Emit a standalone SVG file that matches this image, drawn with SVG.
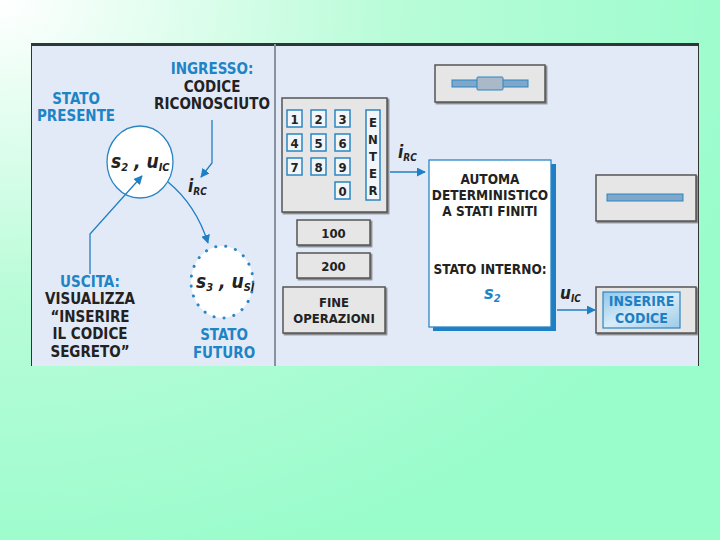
<svg xmlns="http://www.w3.org/2000/svg" width="720" height="540" viewBox="0 0 720 540">
<defs>
<radialGradient id="bg" cx="0" cy="0" r="1.1" gradientUnits="objectBoundingBox">
<stop offset="0" stop-color="#ffffff"/>
<stop offset="0.5" stop-color="#b8fcd8"/>
<stop offset="1" stop-color="#99fccb"/>
</radialGradient>
<linearGradient id="disp" x1="0" y1="0" x2="1" y2="1">
<stop offset="0" stop-color="#8fc7ea"/>
<stop offset="0.5" stop-color="#d8ecf8"/>
<stop offset="1" stop-color="#9ccbe8"/>
</linearGradient>
<marker id="ah" viewBox="0 0 10 10" refX="9" refY="5" markerWidth="9" markerHeight="9" markerUnits="userSpaceOnUse" orient="auto">
<path d="M0,0 L10,5 L0,10 Z" fill="#1f7fc4"/>
</marker>
<filter id="sh" x="-10%" y="-10%" width="130%" height="130%">
<feDropShadow dx="1.5" dy="1.5" stdDeviation="0.6" flood-color="#555" flood-opacity="0.7"/>
</filter>
</defs>
<style>
.t{font-family:"Liberation Sans Narrow","DejaVu Sans Condensed","Liberation Sans",sans-serif;font-weight:bold;}
.b{fill:#1e84c6;}
.k{fill:#222;}
.c{text-anchor:middle;}
.lbl{font-size:15px;}
.it{font-style:italic;}
.btn{fill:#e6e6e6;stroke:#555;stroke-width:1.5;}
.key{fill:#f2f6fa;stroke:#2a86c4;stroke-width:1.5;}
.keyt{font-family:"Liberation Sans Narrow","DejaVu Sans Condensed","Liberation Sans",sans-serif;font-weight:bold;font-size:13px;fill:#222;text-anchor:middle;}
.ln{fill:none;stroke:#1f7fc4;stroke-width:1.3;}
</style>
<rect x="0" y="0" width="720" height="540" fill="url(#bg)"/>
<rect x="31" y="44" width="668" height="322" fill="#e3eaf7"/>
<line x1="31" y1="44.5" x2="699" y2="44.5" stroke="#2b3838" stroke-width="3"/>
<line x1="31.5" y1="44" x2="31.5" y2="366" stroke="#333" stroke-width="1"/>
<line x1="698.5" y1="44" x2="698.5" y2="366" stroke="#333" stroke-width="1"/>
<line x1="275" y1="44" x2="275" y2="366" stroke="#8a92a0" stroke-width="2"/>

<g id="stato-presente-label">
<text class="t b c lbl" x="76" y="104">STATO</text>
<text class="t b c lbl" x="76" y="121">PRESENTE</text>
</g>
<g id="ingresso-label">
<text class="t b c lbl" x="212" y="74">INGRESSO:</text>
<text class="t k c lbl" x="212" y="92">CODICE</text>
<text class="t k c lbl" x="212" y="109">RICONOSCIUTO</text>
</g>
<g id="state-s2">
<ellipse cx="140" cy="162" rx="33" ry="36" fill="#ffffff" stroke="#2a86c4" stroke-width="1.3"/>
<text class="t k it" x="111" y="168" font-size="19">s<tspan font-size="11" dy="3">2</tspan><tspan dy="-3"> , u</tspan><tspan font-size="11" dy="3">IC</tspan></text>
</g>
<g id="state-s3">
<ellipse cx="222" cy="282" rx="31" ry="36" fill="#ffffff" stroke="#2a86c4" stroke-width="3" stroke-linecap="round" stroke-dasharray="0.1 10"/>
<text class="t k it" x="196" y="288" font-size="19">s<tspan font-size="11" dy="3">3</tspan><tspan dy="-3"> , u</tspan><tspan font-size="11" dy="3">SI</tspan></text>
</g>
<g id="stato-futuro-label">
<text class="t b c lbl" x="224" y="340">STATO</text>
<text class="t b c lbl" x="224" y="358">FUTURO</text>
</g>
<g id="uscita-label">
<text class="t b c lbl" x="90" y="287">USCITA:</text>
<text class="t k c lbl" x="90" y="304">VISUALIZZA</text>
<text class="t k c lbl" x="90" y="322">“INSERIRE</text>
<text class="t k c lbl" x="90" y="339">IL CODICE</text>
<text class="t k c lbl" x="90" y="357">SEGRETO”</text>
</g>

<g id="keypad">
<rect x="282" y="98" width="105" height="114" class="btn" filter="url(#sh)"/>
<rect x="287" y="110" width="15" height="17" class="key"/><text class="keyt" x="294.5" y="124">1</text>
<rect x="311" y="110" width="15" height="17" class="key"/><text class="keyt" x="318.5" y="124">2</text>
<rect x="335" y="110" width="15" height="17" class="key"/><text class="keyt" x="342.5" y="124">3</text>
<rect x="287" y="134" width="15" height="17" class="key"/><text class="keyt" x="294.5" y="148">4</text>
<rect x="311" y="134" width="15" height="17" class="key"/><text class="keyt" x="318.5" y="148">5</text>
<rect x="335" y="134" width="15" height="17" class="key"/><text class="keyt" x="342.5" y="148">6</text>
<rect x="287" y="158" width="15" height="17" class="key"/><text class="keyt" x="294.5" y="172">7</text>
<rect x="311" y="158" width="15" height="17" class="key"/><text class="keyt" x="318.5" y="172">8</text>
<rect x="335" y="158" width="15" height="17" class="key"/><text class="keyt" x="342.5" y="172">9</text>
<rect x="335" y="182" width="15" height="17" class="key"/><text class="keyt" x="342.5" y="196">0</text>
<rect x="366" y="110" width="14" height="90" class="key"/>
<text class="keyt" x="373" y="127">E</text>
<text class="keyt" x="373" y="144">N</text>
<text class="keyt" x="373" y="161">T</text>
<text class="keyt" x="373" y="178">E</text>
<text class="keyt" x="373" y="195">R</text>
</g>
<g id="btn-100">
<rect x="297" y="220" width="73" height="25" class="btn" filter="url(#sh)"/>
<text class="keyt" x="333.5" y="238" font-size="14">100</text>
</g>
<g id="btn-200">
<rect x="297" y="253" width="73" height="25" class="btn" filter="url(#sh)"/>
<text class="keyt" x="333.5" y="271" font-size="14">200</text>
</g>
<g id="btn-fine">
<rect x="283" y="287" width="102" height="46" class="btn" filter="url(#sh)"/>
<text class="keyt" x="334" y="307" font-size="14">FINE</text>
<text class="keyt" x="334" y="323" font-size="14">OPERAZIONI</text>
</g>

<g id="automa">
<rect x="433" y="164" width="123" height="167" fill="#1f7fc4"/>
<rect x="429" y="160" width="122" height="167" fill="#ffffff" stroke="#2a86c4" stroke-width="1.3"/>
<text class="t k c" x="490" y="184" font-size="13.5">AUTOMA</text>
<text class="t k c" x="490" y="200" font-size="13.5">DETERMINISTICO</text>
<text class="t k c" x="490" y="216" font-size="13.5">A STATI FINITI</text>
<text class="t k c" x="490" y="274" font-size="13.5">STATO INTERNO:</text>
<text class="t b it" x="484" y="299" font-size="18">s<tspan font-size="11" dy="3">2</tspan></text>
</g>

<g id="display-1">
<rect x="435" y="65" width="110" height="37" class="btn" filter="url(#sh)"/>
<rect x="452" y="80" width="76" height="7" fill="#7ea7c9" stroke="#2a86c4" stroke-width="1"/>
<rect x="477" y="77" width="26" height="13" rx="1" fill="#a9b9c8" stroke="#2a86c4" stroke-width="1"/>
</g>
<g id="display-2">
<rect x="596" y="175" width="100" height="46" class="btn" filter="url(#sh)"/>
<rect x="607" y="194" width="76" height="7" fill="#7ea7c9" stroke="#2a86c4" stroke-width="1"/>
</g>
<g id="display-3">
<rect x="596" y="287" width="100" height="46" class="btn" filter="url(#sh)"/>
<rect x="603" y="292" width="77" height="36" fill="url(#disp)" stroke="#2a86c4" stroke-width="1.2"/>
<text class="t c" x="641.5" y="306" font-size="14" fill="#1f7fc4">INSERIRE</text>
<text class="t c" x="641.5" y="323" font-size="14" fill="#1f7fc4">CODICE</text>
</g>

<g id="connectors">
<polyline class="ln" points="212,120 212,163 201,177" marker-end="url(#ah)"/>
<path class="ln" d="M168,182 Q196,205 208,243" marker-end="url(#ah)"/>
<polyline class="ln" points="90,274 90,234 142,176" marker-end="url(#ah)"/>
<line class="ln" x1="390" y1="172" x2="425" y2="172" marker-end="url(#ah)"/>
<line class="ln" x1="557" y1="310" x2="595" y2="310" marker-end="url(#ah)"/>
<text class="t k it" x="398" y="158" font-size="17">i<tspan font-size="10" dy="3">RC</tspan></text>
<text class="t k it" x="560" y="299" font-size="17">u<tspan font-size="10" dy="3">IC</tspan></text>
<text class="t k it" x="188" y="192" font-size="17">i<tspan font-size="10" dy="3">RC</tspan></text>
</g>
</svg>
